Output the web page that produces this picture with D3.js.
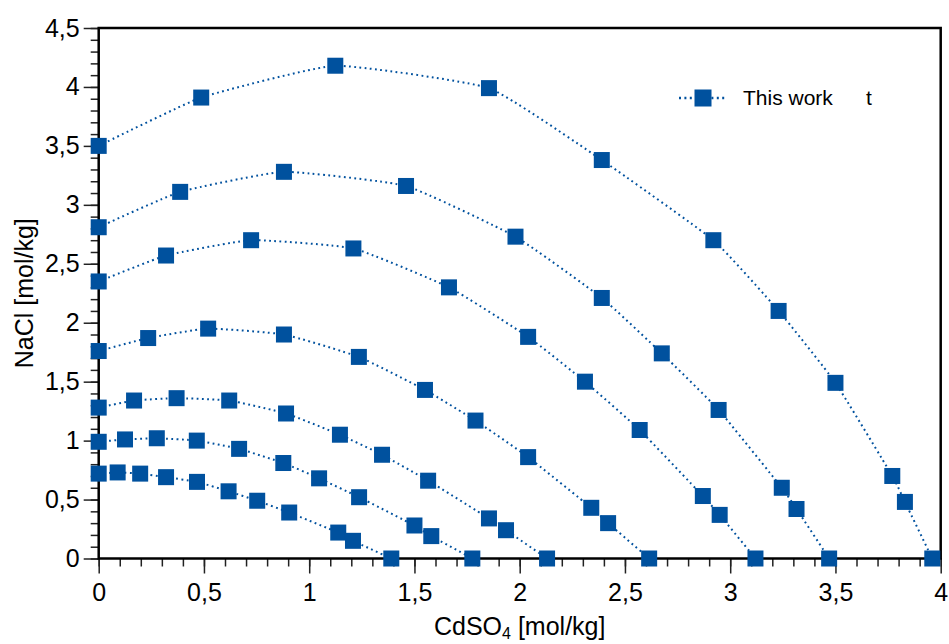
<!DOCTYPE html>
<html>
<head>
<meta charset="utf-8">
<script src="https://cdn.jsdelivr.net/npm/d3@7/dist/d3.min.js"></script>
<style>
  html, body { margin: 0; padding: 0; background: #fff; }
  svg { display: block; font-family: "Liberation Sans", Arial, sans-serif; }
</style>
</head>
<body>
<svg id="chart" width="949" height="644"></svg>
<script>
// Solubility isotherms, NaCl vs CdSO4 molality (mol/kg)
const curve1X = [0, 0.487, 1.124, 1.854, 2.39, 2.92, 3.23, 3.50, 3.77, 3.83, 3.96];
const curve1Y = [3.50, 3.91, 4.18, 3.99, 3.38, 2.70, 2.10, 1.49, 0.70, 0.48, 0];
const curve2X = [0, 0.387, 0.88, 1.46, 1.98, 2.39, 2.675, 2.945, 3.245, 3.315, 3.47];
const curve2Y = [2.81, 3.11, 3.28, 3.16, 2.73, 2.21, 1.74, 1.26, 0.60, 0.42, 0];
const curve3X = [0, 0.32, 0.724, 1.21, 1.664, 2.04, 2.31, 2.57, 2.87, 2.95, 3.12];
const curve3Y = [2.35, 2.57, 2.70, 2.63, 2.30, 1.88, 1.50, 1.09, 0.53, 0.37, 0];
const curve4X = [0, 0.235, 0.52, 0.88, 1.236, 1.55, 1.79, 2.04, 2.34, 2.42, 2.615];
const curve4Y = [1.76, 1.87, 1.95, 1.90, 1.71, 1.43, 1.17, 0.86, 0.43, 0.30, 0];
const curve5X = [0, 0.168, 0.37, 0.62, 0.89, 1.146, 1.346, 1.565, 1.854, 1.935, 2.13];
const curve5Y = [1.28, 1.34, 1.36, 1.34, 1.23, 1.05, 0.88, 0.66, 0.34, 0.24, 0];
const curve6X = [0, 0.125, 0.276, 0.466, 0.667, 0.877, 1.047, 1.237, 1.50, 1.58, 1.775];
const curve6Y = [0.99, 1.01, 1.02, 1.00, 0.93, 0.81, 0.68, 0.52, 0.28, 0.19, 0];
const curve7X = [0, 0.09, 0.197, 0.32, 0.467, 0.617, 0.753, 0.905, 1.138, 1.208, 1.39];
const curve7Y = [0.72, 0.73, 0.72, 0.69, 0.65, 0.57, 0.49, 0.39, 0.22, 0.15, 0];

const xMajorTicks = [0, 0.5, 1, 1.5, 2, 2.5, 3, 3.5, 4];
const yMajorTicks = [0, 0.5, 1, 1.5, 2, 2.5, 3, 3.5, 4, 4.5];
const xTitle = "CdSO";
const xTitleSub = "4";
const xTitleUnit = " [mol/kg]";
const yTitle = "NaCl [mol/kg]";
const legendLabel = "This work";
const legendTail = "t";

const curvesX = [curve1X, curve2X, curve3X, curve4X, curve5X, curve6X, curve7X];
const curvesY = [curve1Y, curve2Y, curve3Y, curve4Y, curve5Y, curve6Y, curve7Y];
const series = curvesX.map((xs, i) => xs.map((v, j) => ({ x: v, y: curvesY[i][j] })));

const blue = "#00519E";
const svg = d3.select("#chart");
const plotLeft = 98.7, plotRight = 940.7, plotTop = 28, plotBottom = 558.5;

const x = d3.scaleLinear().domain([0, 4]).range([plotLeft, plotRight]);
const y = d3.scaleLinear().domain([0, 4.5]).range([plotBottom, plotTop]);

const fmt = d => String(d).replace(".", ",");
const minor = d3.range(0, 46).map(i => i / 10);
const fontStack = "'Liberation Sans', Arial, sans-serif";

svg.append("rect").attr("width", 949).attr("height", 644).attr("fill", "#fff");

// minor ticks
svg.append("g").attr("transform", `translate(0,${plotBottom})`)
  .call(d3.axisBottom(x).tickValues(minor.filter(v => v <= 4)).tickSize(8).tickFormat(""))
  .call(g => g.select(".domain").remove())
  .call(g => g.selectAll("line").attr("stroke", "#222").attr("stroke-width", 1.5));
svg.append("g").attr("transform", `translate(${plotLeft},0)`)
  .call(d3.axisLeft(y).tickValues(minor).tickSize(8).tickFormat(""))
  .call(g => g.select(".domain").remove())
  .call(g => g.selectAll("line").attr("stroke", "#222").attr("stroke-width", 1.5));

// major ticks and labels
const xAxis = svg.append("g").attr("transform", `translate(0,${plotBottom})`)
  .call(d3.axisBottom(x).tickValues(xMajorTicks).tickSize(15).tickPadding(10).tickFormat(fmt));
xAxis.select(".domain").remove();
xAxis.selectAll("line").attr("stroke", "#222").attr("stroke-width", 1.5);
xAxis.selectAll("text").attr("font-size", 25).attr("fill", "#000").style("font-family", fontStack);

const yAxis = svg.append("g").attr("transform", `translate(${plotLeft},0)`)
  .call(d3.axisLeft(y).tickValues(yMajorTicks).tickSize(15).tickPadding(4).tickFormat(fmt));
yAxis.select(".domain").remove();
yAxis.selectAll("line").attr("stroke", "#222").attr("stroke-width", 1.5);
yAxis.selectAll("text").attr("font-size", 25).attr("fill", "#000").style("font-family", fontStack);

// frame
svg.append("rect")
  .attr("x", plotLeft).attr("y", plotTop)
  .attr("width", plotRight - plotLeft).attr("height", plotBottom - plotTop)
  .attr("fill", "none").attr("stroke", "#000").attr("stroke-width", 2.5);

// axis titles
const xt = svg.append("text")
  .attr("x", (plotLeft + plotRight) / 2).attr("y", 635)
  .attr("text-anchor", "middle").attr("font-size", 25).attr("fill", "#000");
xt.append("tspan").text(xTitle);
xt.append("tspan").attr("font-size", 16).attr("dy", 4).text(xTitleSub);
xt.append("tspan").attr("dy", -4).text(xTitleUnit);

svg.append("text")
  .attr("transform", `translate(33,${(plotTop + plotBottom) / 2}) rotate(-90)`)
  .attr("text-anchor", "middle").attr("font-size", 25).attr("fill", "#000")
  .text(yTitle);

// isotherm lines, lightly smoothed
const line = d3.line().x(d => x(d.x)).y(d => y(d.y)).curve(d3.curveCardinal.tension(0.6));
svg.append("g").selectAll("path").data(series).join("path")
  .attr("d", line)
  .attr("fill", "none").attr("stroke", blue).attr("stroke-width", 2)
  .attr("stroke-dasharray", "1.8,3.4");

// markers
const ms = 16;
svg.append("g").selectAll("g").data(series).join("g")
  .selectAll("rect").data(d => d).join("rect")
  .attr("x", d => x(d.x) - ms / 2).attr("y", d => y(d.y) - ms / 2)
  .attr("width", ms).attr("height", ms).attr("fill", blue);

// legend
const lg = svg.append("g");
lg.append("line").attr("x1", 679).attr("x2", 725).attr("y1", 98).attr("y2", 98)
  .attr("stroke", blue).attr("stroke-width", 2.5).attr("stroke-dasharray", "2,3.4");
lg.append("rect").attr("x", 703 - 8.5).attr("y", 98 - 8.5).attr("width", 17).attr("height", 17).attr("fill", blue);
lg.append("text").attr("x", 743).attr("y", 105).attr("font-size", 21).attr("fill", "#000").text(legendLabel);
lg.append("text").attr("x", 866).attr("y", 105).attr("font-size", 21).attr("fill", "#000").text(legendTail);
</script>
</body>
</html>
